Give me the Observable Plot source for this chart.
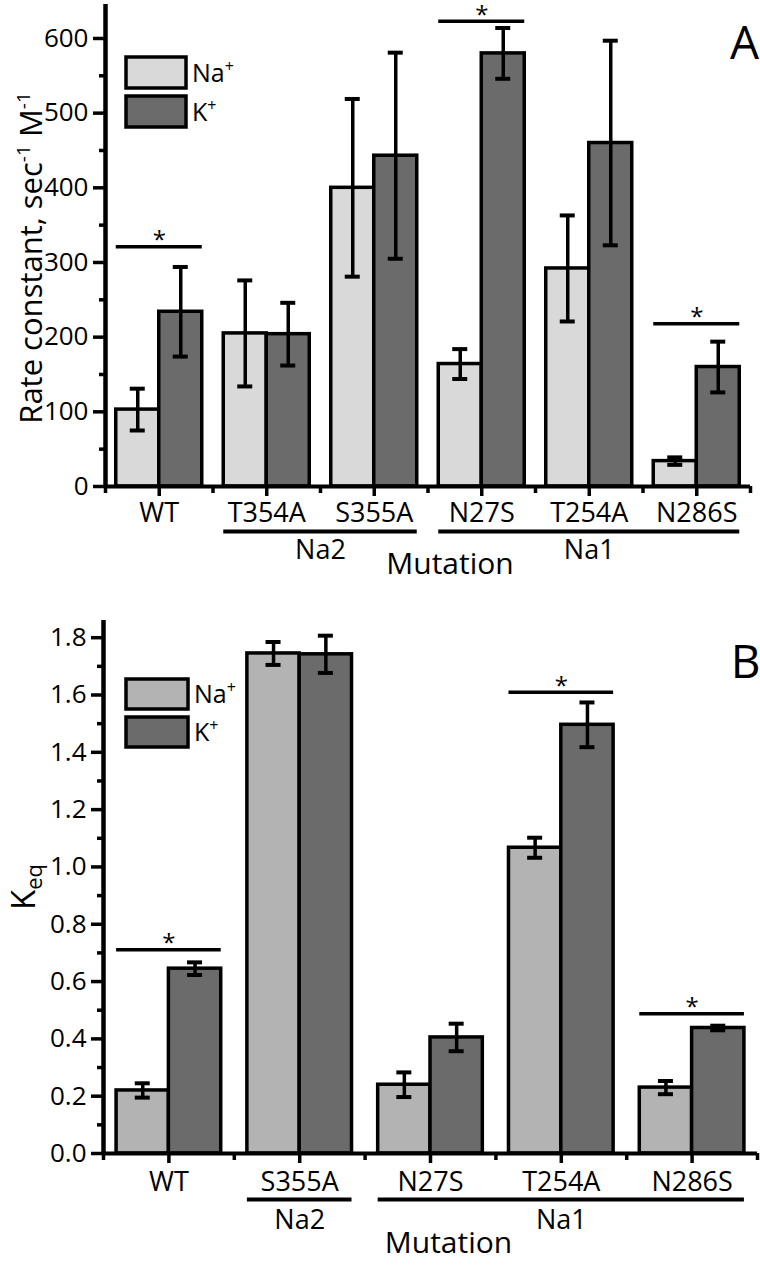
<!DOCTYPE html>
<html><head><meta charset="utf-8">
<script src="https://cdn.jsdelivr.net/npm/d3@7"></script>
<script src="https://cdn.jsdelivr.net/npm/@observablehq/plot@0.6"></script>
<style>
body{margin:0;background:#fff;}
#chart{width:760px;}
#chart svg{display:block;}
</style></head><body><div id="chart"></div>
<script>
// ---------- Panel A: rate constants ----------
const catsA = ["WT", "T354A", "S355A", "N27S", "T254A", "N286S"];
const naA = [103, 205, 400, 164, 292, 34];
const naErrA = [28, 71, 119, 20, 71, 5];
const kA = [234, 204, 443, 580, 460, 160];
const kErrA = [60, 42, 138, 34, 137, 34];
const sigCatsA = ["WT", "N27S", "N286S"];
const sigLevelsA = [321, 623, 218];
const groupNamesA = ["Na2", "Na1"];
const groupMembersA = [["T354A", "S355A"], ["N27S", "T254A", "N286S"]];
const yMajorA = [0, 100, 200, 300, 400, 500, 600];
const yMinorA = [50, 150, 250, 350, 450, 550];

// ---------- Panel B: Keq ----------
const catsB = ["WT", "S355A", "N27S", "T254A", "N286S"];
const naB = [0.22, 1.745, 0.24, 1.067, 0.23];
const naErrB = [0.025, 0.04, 0.043, 0.035, 0.023];
const kB = [0.645, 1.742, 0.405, 1.496, 0.438];
const kErrB = [0.022, 0.065, 0.048, 0.078, 0.008];
const sigCatsB = ["WT", "T254A", "N286S"];
const sigLevelsB = [0.711, 1.61, 0.488];
const groupNamesB = ["Na2", "Na1"];
const groupMembersB = [["S355A"], ["N27S", "T254A", "N286S"]];
const yMajorB = [0, 0.2, 0.4, 0.6, 0.8, 1.0, 1.2, 1.4, 1.6, 1.8];
const yMinorB = [0.1, 0.3, 0.5, 0.7, 0.9, 1.1, 1.3, 1.5, 1.7];

const ionLabels = [["Na", "+"], ["K", "+"]];
const FONT = "'Open Sans', 'Noto Sans', sans-serif";

function panel(cfg) {
  const n = cfg.cats.length;
  const PAD = 0.1;
  const unitPx = (cfg.width - cfg.marginLeft - cfg.marginRight) / n;
  const cap = 7.5 / unitPx;
  const rows = cfg.cats.flatMap((c, i) => [
    {cat: c, i, ion: "Na", v: cfg.na[i], e: cfg.naErr[i], x1: i + PAD, x2: i + 0.5},
    {cat: c, i, ion: "K", v: cfg.k[i], e: cfg.kErr[i], x1: i + 0.5, x2: i + 1 - PAD}
  ]);
  rows.forEach(d => d.xc = (d.x1 + d.x2) / 2);
  const caps = rows.flatMap(d => [{xc: d.xc, y: d.v - d.e}, {xc: d.xc, y: d.v + d.e}]);
  const sig = cfg.sigCats.map((c, j) => ({i: cfg.cats.indexOf(c), level: cfg.sigLevels[j]}));
  const groups = cfg.groupNames.map((g, j) => {
    const idx = cfg.groupMembers[j].map(c => cfg.cats.indexOf(c));
    const a = Math.min(...idx), b = Math.max(...idx);
    return {name: g, x1: a + PAD, x2: b + 1 - PAD, xc: (a + b + 1) / 2};
  });
  const centers = cfg.cats.map((c, i) => ({x: i + 0.5, label: c}));
  const bounds = d3.range(n + 1);

  const svg = Plot.plot({
    width: cfg.width, height: cfg.height,
    marginTop: cfg.marginTop, marginBottom: cfg.marginBottom,
    marginLeft: cfg.marginLeft, marginRight: cfg.marginRight,
    x: {domain: [0, n]},
    y: {domain: [0, cfg.yMax]},
    style: {fontFamily: FONT, fontSize: "26px", color: "black", background: "white"},
    marks: [
      Plot.rectY(rows.filter(d => d.ion === "Na"), {x1: "x1", x2: "x2", y1: () => 0, y2: "v", fill: cfg.naColor, stroke: "black", strokeWidth: 3.5}),
      Plot.rectY(rows.filter(d => d.ion === "K"), {x1: "x1", x2: "x2", y1: () => 0, y2: "v", fill: cfg.kColor, stroke: "black", strokeWidth: 3.5}),
      Plot.ruleX(rows, {x: "xc", y1: d => d.v - d.e, y2: d => d.v + d.e, stroke: "black", strokeWidth: 3.5}),
      Plot.ruleY(caps, {y: "y", x1: d => d.xc - cap, x2: d => d.xc + cap, stroke: "black", strokeWidth: 4}),
      Plot.ruleY(sig, {y: "level", x1: d => d.i + PAD, x2: d => d.i + 1 - PAD, stroke: "black", strokeWidth: 3.5}),
      Plot.text(sig, {x: d => d.i + 0.5, y: "level", text: () => "*", fontSize: 24, dy: -6}),
      Plot.ruleY(groups, {y: () => 0, x1: "x1", x2: "x2", dy: cfg.groupLineDy, stroke: "black", strokeWidth: 4}),
      Plot.text(groups, {x: "xc", y: () => 0, text: "name", dy: cfg.groupTextDy, fontSize: 27}),
      // y axis ticks and labels
      Plot.axisY(cfg.yMajor, {tickSize: 12, strokeWidth: 3.5, tickFormat: () => "", label: null}),
      Plot.axisY(cfg.yMinor, {tickSize: 6, strokeWidth: 3.5, tickFormat: () => "", label: null}),
      Plot.text(cfg.yMajor, {x: () => 0, y: d => d, text: cfg.yFmt, textAnchor: "end", dx: -17, fontSize: 26}),
      // x axis ticks and labels
      Plot.axisX(centers.map(d => d.x), {tickSize: 10, strokeWidth: 3.5, tickFormat: () => "", label: null}),
      Plot.axisX(bounds, {tickSize: 7, strokeWidth: 3.5, tickFormat: () => "", label: null}),
      Plot.text(centers, {x: "x", y: () => 0, text: "label", lineAnchor: "top", dy: cfg.xLabelDy, fontSize: 27}),
      Plot.ruleY([0], {stroke: "black", strokeWidth: 4}),
      Plot.ruleX([0], {stroke: "black", strokeWidth: 4.5}),
      Plot.text(["Mutation"], {frameAnchor: "bottom", dx: cfg.mutDx, dy: cfg.mutDy, fontSize: 30}),
      Plot.text([cfg.letter], {frameAnchor: "top-right", textAnchor: "middle", dx: cfg.letterDx, dy: cfg.letterDy, fontSize: 46})
    ]
  });

  const s = d3.select(svg);
  // legend
  const lg = s.append("g").attr("font-family", FONT).attr("text-anchor", "start");
  ionLabels.forEach((lab, j) => {
    const y = cfg.legend.y + j * (cfg.legend.h + cfg.legend.gap);
    lg.append("rect").attr("x", cfg.legend.x).attr("y", y).attr("width", cfg.legend.w).attr("height", cfg.legend.h)
      .attr("fill", j === 0 ? cfg.naColor : cfg.kColor).attr("stroke", "black").attr("stroke-width", 3.5);
    const t = lg.append("text").attr("x", cfg.legend.x + cfg.legend.w + 6).attr("y", y + cfg.legend.h / 2 + 9)
      .attr("font-size", 25).attr("fill", "black");
    t.append("tspan").text(lab[0]);
    t.append("tspan").attr("font-size", 16).attr("dy", -10).text(lab[1]);
  });
  // y-axis title
  cfg.yTitle(s);
  return svg;
}

const chart = document.getElementById("chart");

chart.appendChild(panel({
  cats: catsA, na: naA, naErr: naErrA, k: kA, kErr: kErrA,
  sigCats: sigCatsA, sigLevels: sigLevelsA, groupNames: groupNamesA, groupMembers: groupMembersA,
  yMajor: yMajorA, yMinor: yMinorA, yMax: 645.5, yFmt: d => String(d),
  width: 760, height: 600, marginTop: 4, marginBottom: 114, marginLeft: 105, marginRight: 10,
  naColor: "#d9d9d9", kColor: "#6b6b6b",
  xLabelDy: 16, groupLineDy: 45, groupTextDy: 64, mutDx: 22, mutDy: 87,
  letter: "A", letterDx: -6, letterDy: 22,
  legend: {x: 126, y: 57, w: 60, h: 31, gap: 8},
  yTitle: s => {
    const t = s.append("text").attr("transform", "translate(42,258) rotate(-90)").attr("text-anchor", "middle")
      .attr("font-family", FONT).attr("font-size", 31).attr("fill", "black");
    t.append("tspan").text("Rate constant, sec");
    t.append("tspan").attr("font-size", 19).attr("dy", -12).text("-1");
    t.append("tspan").attr("dy", 12).text(" M");
    t.append("tspan").attr("font-size", 19).attr("dy", -12).text("-1");
  }
}));

chart.appendChild(panel({
  cats: catsB, na: naB, naErr: naErrB, k: kB, kErr: kErrB,
  sigCats: sigCatsB, sigLevels: sigLevelsB, groupNames: groupNamesB, groupMembers: groupMembersB,
  yMajor: yMajorB, yMinor: yMinorB, yMax: 1.86, yFmt: d => d.toFixed(1),
  width: 760, height: 666, marginTop: 20, marginBottom: 113, marginLeft: 103, marginRight: 3,
  naColor: "#b3b3b3", kColor: "#6b6b6b",
  xLabelDy: 18, groupLineDy: 46, groupTextDy: 67, mutDx: 18, mutDy: 99,
  letter: "B", letterDx: -12, letterDy: 25,
  legend: {x: 126, y: 79, w: 62, h: 30, gap: 8},
  yTitle: s => {
    const t = s.append("text").attr("transform", "translate(35,287) rotate(-90)").attr("text-anchor", "middle")
      .attr("font-family", FONT).attr("font-size", 33).attr("fill", "black");
    t.append("tspan").text("K");
    t.append("tspan").attr("font-size", 22).attr("dy", 7).text("eq");
  }
}));
</script>
</body></html>
